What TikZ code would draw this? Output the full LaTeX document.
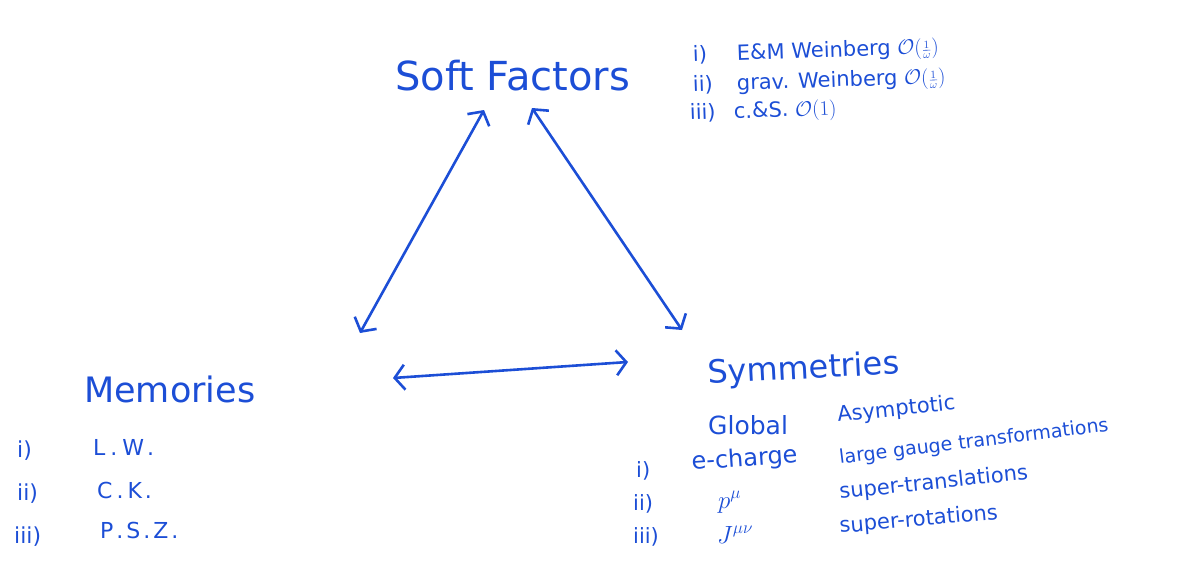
\documentclass[tikz,border=0pt]{standalone}
\usepackage{amsmath}
\usepackage{fontspec}
\setmainfont{DejaVu Sans}
\usetikzlibrary{arrows.meta}
\definecolor{ink}{RGB}{28,78,214}
\tikzset{
  txt/.style={text=ink, inner sep=0pt, anchor=base west},
  title/.style={txt, font=\fontsize{40}{44}\selectfont},
  item/.style={txt, font=\fontsize{21}{25}\selectfont},
  small/.style={txt, font=\fontsize{20}{23}\selectfont},
  rel/.style={draw=ink, line width=2.6pt, line cap=round,
    {Straight Barb[length=10pt,width=25pt,line width=2.6pt]}-{Straight Barb[length=10pt,width=25pt,line width=2.6pt]}}
}
\newcommand{\lab}[1]{\makebox[44pt][l]{#1}}
\newcommand{\tinyfrac}[2]{\genfrac{}{}{}{2}{#1}{#2}}
\begin{document}
\begin{tikzpicture}[x=1pt,y=-1pt]
\useasboundingbox (0,0) rectangle (1192,562);
% titles
\node[title] (soft) at (395,90) {Soft Factors};
\node[title, font=\fontsize{35}{40}\selectfont] (mem) at (84,402) {Memories};
\node[title, font=\fontsize{32}{36}\selectfont, rotate=3] (sym) at (708,384) {Symmetries};
% soft factor list
\node[item, rotate=2] (s1) at (693,62) {\lab{i)}E\&M Weinberg $\mathcal{O}(\tinyfrac{1}{\omega})$};
\node[item, rotate=2] (s2) at (693,92) {\lab{ii)}grav. Weinberg $\mathcal{O}(\tinyfrac{1}{\omega})$};
\node[item, rotate=2] (s3) at (690,120) {\lab{iii)}c.\&S. $\mathcal{O}(1)$};
% memories list
\node[item, font=\fontsize{22}{26}\selectfont] (m1) at (17,457) {i)};
\node[item, font=\fontsize{22}{26}\selectfont] (m1t) at (93,455) {L\hspace{5pt}.\hspace{5pt}W\hspace{3pt}.};
\node[item, font=\fontsize{22}{26}\selectfont] (m2) at (17,500) {ii)};
\node[item, font=\fontsize{22}{26}\selectfont] (m2t) at (97,498) {C\hspace{4pt}.\hspace{4pt}K\hspace{3pt}.};
\node[item, font=\fontsize{22}{26}\selectfont] (m3) at (14,543) {iii)};
\node[item, font=\fontsize{22}{26}\selectfont] (m3t) at (100,538) {P\hspace{3pt}.\hspace{3pt}S\hspace{3pt}.\hspace{3pt}Z\hspace{3pt}.};
% symmetries table
\node[item, font=\fontsize{25}{28}\selectfont] (glob) at (708,434) {Global};
\node[item, rotate=6] (asym) at (838,422) {Asymptotic};
\node[item] (y1) at (636,477) {i)};
\node[item, font=\fontsize{24}{28}\selectfont, rotate=4] (g1) at (692,470) {e-charge};
\node[small, font=\fontsize{19}{23}\selectfont, rotate=7] (a1) at (840,464) {large gauge transformations};
\node[item] (y2) at (633,510) {ii)};
\node[item, font=\fontsize{25}{28}\selectfont] (g2) at (718,508) {$p^{\mu}$};
\node[small, font=\fontsize{21}{24}\selectfont, rotate=6] (a2) at (840,499) {super-translations};
\node[item] (y3) at (633,543) {iii)};
\node[item, font=\fontsize{25}{28}\selectfont] (g3) at (717,543) {$J^{\mu\nu}$};
\node[small, font=\fontsize{21}{24}\selectfont, rotate=5] (a3) at (840,533) {super-rotations};
% arrow end points
\coordinate (sl) at (484,110);
\coordinate (sr) at (532,108);
\coordinate (ml) at (360,333);
\coordinate (mr) at (393,378);
\coordinate (yl) at (628,362);
\coordinate (yr) at (682,330);
\draw[rel] (sl) -- (ml);
\draw[rel] (sr) -- (yr);
\draw[rel] (mr) -- (yl);
\end{tikzpicture}
\end{document}
